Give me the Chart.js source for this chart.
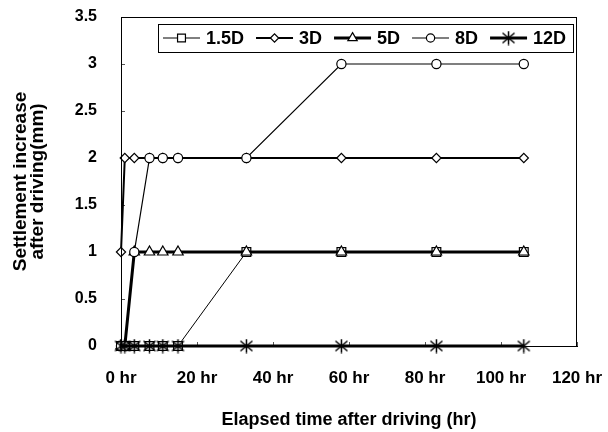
<!DOCTYPE html>
<html>
<head>
<meta charset="utf-8">
<script src="https://cdn.jsdelivr.net/npm/chart.js@4/dist/chart.umd.min.js"></script>
<style>
  html, body { margin: 0; padding: 0; background: #fff; }
  #wrap { width: 608px; height: 432px; }
</style>
</head>
<body>
<div id="wrap"><canvas id="c" width="608" height="432"></canvas></div>
<script>
// ---- data ----
const hours = [0, 1, 3.5, 7.5, 11, 15, 33, 58, 83, 106];
const seriesNames = ['1.5D', '3D', '5D', '8D', '12D'];
const s1_5D = [0, 0, 0, 0, 0, 0, 1, 1, 1, 1];
const s3D   = [1, 2, 2, 2, 2, 2, 2, 2, 2, 2];
const s5D   = [0, 0, 1, 1, 1, 1, 1, 1, 1, 1];
const s8D   = [0, 0, 1, 2, 2, 2, 2, 3, 3, 3];
const s12D  = [0, 0, 0, 0, 0, 0, 0, 0, 0, 0];
const yTicks = [0, 0.5, 1, 1.5, 2, 2.5, 3, 3.5];
const xTicks = [0, 20, 40, 60, 80, 100, 120];

// ---- styles ----
const FONT = '"Liberation Sans", Arial, sans-serif';
function makeStar(size, lw) {
  const c = document.createElement('canvas');
  c.width = size; c.height = size;
  const g = c.getContext('2d');
  g.strokeStyle = '#000'; g.lineWidth = lw; g.lineCap = 'butt';
  const m = size / 2;
  g.beginPath();
  g.moveTo(m, 0.5); g.lineTo(m, size - 0.5);
  g.moveTo(1.5, 2.5); g.lineTo(size - 1.5, size - 2.5);
  g.moveTo(size - 1.5, 2.5); g.lineTo(1.5, size - 2.5);
  g.stroke();
  return c;
}
const starImg = makeStar(15, 1.5);
const styles = [
  { pointStyle: 'rect',     radius: 6.2, lw: 1,   order: 5 },
  { pointStyle: 'rectRot',  radius: 4.6, lw: 2,   order: 4 },
  { pointStyle: 'triangle', radius: 6,   lw: 3,   order: 3 },
  { pointStyle: 'circle',   radius: 4.6, lw: 1.2, order: 2 },
  { pointStyle: starImg,    radius: 7,   lw: 3,   order: 1 }
];
const seriesValues = [s1_5D, s3D, s5D, s8D, s12D];

const datasets = seriesNames.map((name, i) => ({
  label: name,
  data: hours.map((h, j) => ({ x: h, y: seriesValues[i][j] })),
  borderColor: '#000',
  backgroundColor: '#fff',
  borderWidth: styles[i].lw,
  pointStyle: styles[i].pointStyle,
  pointRadius: styles[i].radius,
  pointBorderWidth: 1.2,
  pointBorderColor: '#000',
  pointBackgroundColor: '#fff',
  tension: 0,
  order: styles[i].order,
  clip: false
}));

function noPad(s) {
  s.paddingLeft = 0; s.paddingRight = 0; s.paddingTop = 0; s.paddingBottom = 0;
}

// frame + legend plugin
const framePlugin = {
  id: 'frame',
  afterDraw(chart) {
    const { ctx, chartArea: a } = chart;
    ctx.save();
    ctx.strokeStyle = '#000';
    ctx.lineWidth = 1;
    ctx.strokeRect(Math.round(a.left) + 0.5, Math.round(a.top) + 0.5,
                   Math.round(a.right - a.left) - 1, Math.round(a.bottom - a.top));
    // legend box
    const bx = 158, by = 24, bw = 415, bh = 28;
    ctx.fillStyle = '#fff';
    ctx.fillRect(bx, by, bw, bh);
    ctx.strokeRect(bx + 0.5, by + 0.5, bw, bh);
    ctx.font = 'bold 18px ' + FONT;
    ctx.textBaseline = 'middle';
    ctx.textAlign = 'left';
    let x = 163;
    const cy = 38;
    const sampleLen = 37;
    chart.data.datasets.forEach((ds, i) => {
      ctx.strokeStyle = '#000';
      ctx.lineWidth = styles[i].lw;
      ctx.beginPath();
      ctx.moveTo(x, cy); ctx.lineTo(x + sampleLen, cy);
      ctx.stroke();
      const cx = x + sampleLen / 2;
      const ps = styles[i].pointStyle;
      if (typeof ps === 'string') {
        ctx.fillStyle = '#fff';
        ctx.strokeStyle = '#000';
        ctx.lineWidth = 1.2;
        Chart.helpers.drawPoint(ctx, { pointStyle: ps, radius: styles[i].radius * 0.9, rotation: 0, borderWidth: 1.2 }, cx, cy);
      } else {
        ctx.drawImage(ps, cx - ps.width / 2, cy - ps.height / 2);
      }
      x += sampleLen + 6;
      ctx.fillStyle = '#000';
      ctx.fillText(ds.label, x, cy + 1);
      x += ctx.measureText(ds.label).width + 12;
    });
    ctx.restore();
  }
};

new Chart(document.getElementById('c'), {
  type: 'line',
  data: { datasets },
  plugins: [framePlugin],
  options: {
    responsive: false,
    animation: false,
    devicePixelRatio: 1,
    layout: { padding: { left: 0, right: 31, top: 17, bottom: 0 } },
    plugins: { legend: { display: false }, tooltip: { enabled: false } },
    scales: {
      x: {
        type: 'linear',
        min: 0, max: 120,
        afterFit(s) { s.height = 86; noPad(s); },
        afterBuildTicks(s) { s.ticks = xTicks.map(v => ({ value: v })); },
        ticks: {
          color: '#000',
          padding: 26,
          maxRotation: 0,
          font: { family: FONT, size: 17, weight: 'bold' },
          callback: v => v + ' hr'
        },
        grid: { drawOnChartArea: false, tickLength: -4, color: '#555' },
        border: { color: '#000', width: 1 },
        title: {
          display: true,
          text: 'Elapsed time after driving (hr)',
          color: '#000',
          font: { family: FONT, size: 18, weight: 'bold' },
          padding: { top: 0, bottom: 1 }
        }
      },
      y: {
        min: 0, max: 3.5,
        afterFit(s) { s.width = 121; noPad(s); },
        afterBuildTicks(s) { s.ticks = yTicks.map(v => ({ value: v })); },
        ticks: {
          color: '#000',
          padding: 28,
          font: { family: FONT, size: 16, weight: 'bold' },
          callback: v => String(v)
        },
        grid: { drawOnChartArea: false, tickLength: -4, color: '#555' },
        border: { color: '#000', width: 1 },
        title: {
          display: true,
          text: ['Settlement increase', 'after driving(mm)'],
          color: '#000',
          font: { family: FONT, size: 19, weight: 'bold', lineHeight: 0.9 },
          padding: { top: 12, bottom: 0 }
        }
      }
    }
  }
});
</script>
</body>
</html>
